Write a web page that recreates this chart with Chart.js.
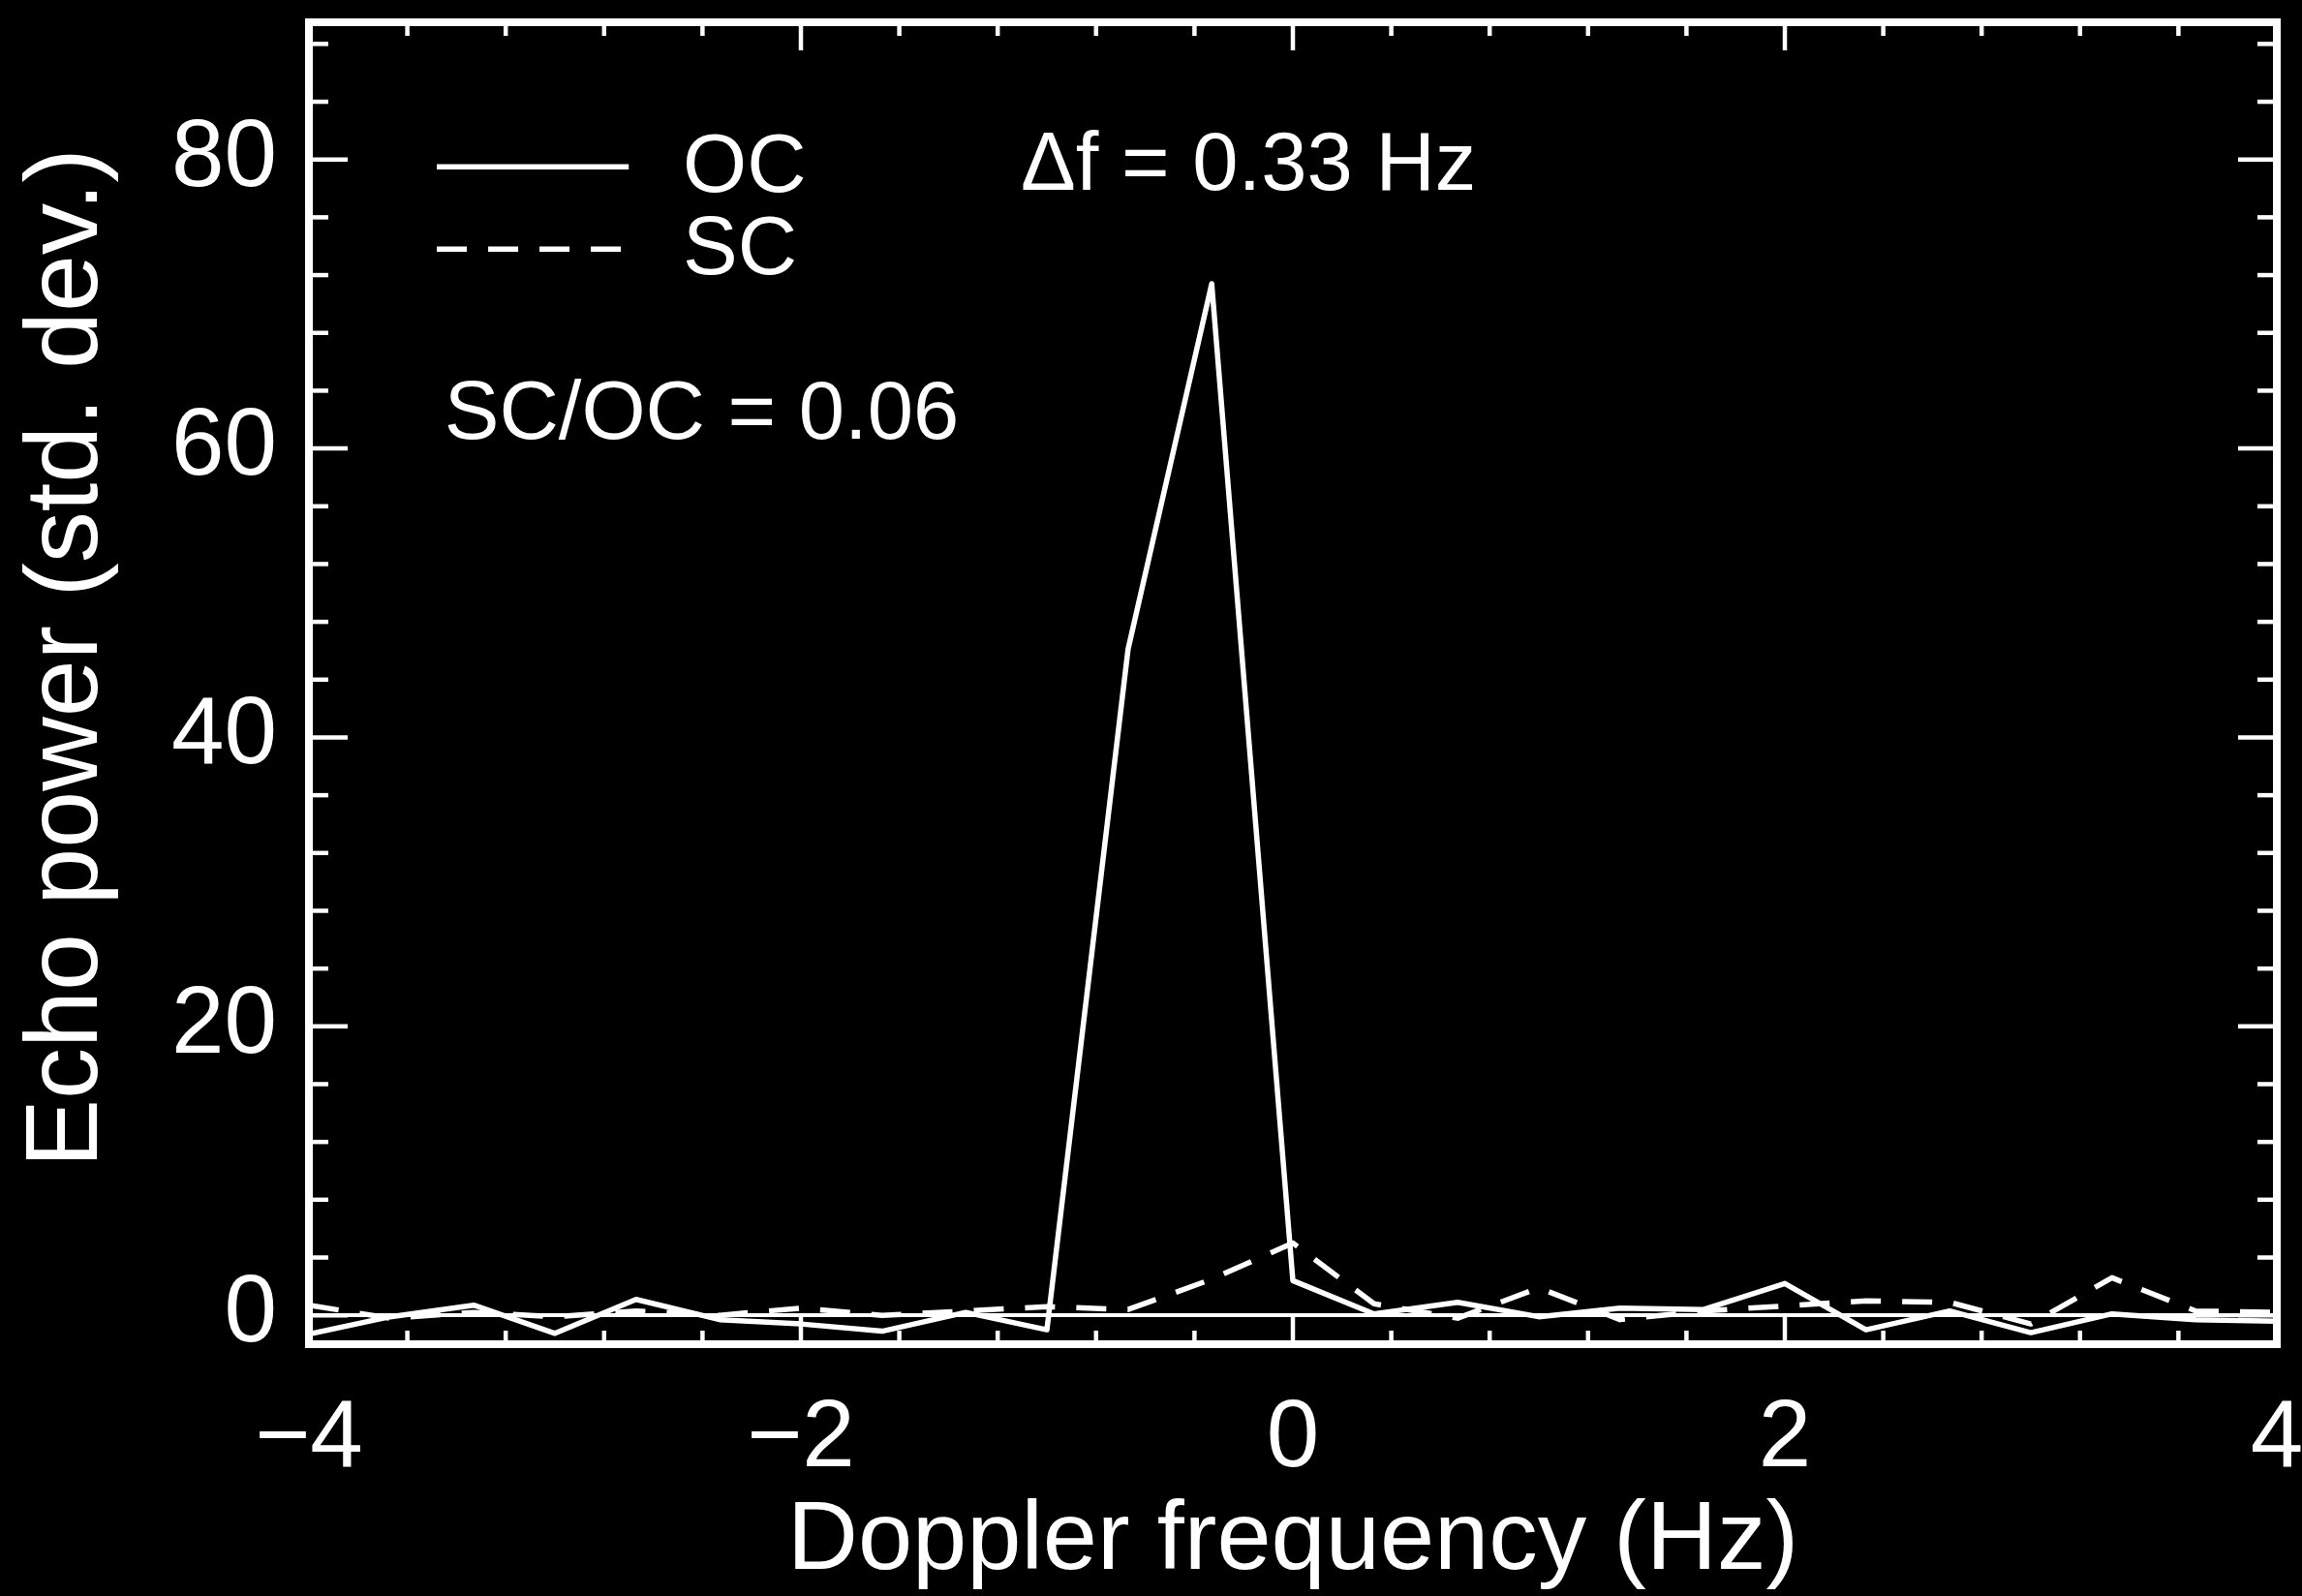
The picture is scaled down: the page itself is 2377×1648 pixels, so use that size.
<!DOCTYPE html>
<html>
<head>
<meta charset="utf-8">
<script src="https://cdn.jsdelivr.net/npm/chart.js@4.4.1/dist/chart.umd.min.js"></script>
<style>
  html, body { margin: 0; padding: 0; background: #000; }
  #wrap { width: 2377px; height: 1648px; position: relative; }
</style>
</head>
<body>
<div id="wrap"><canvas id="c"></canvas></div>
<script>
// ---- data ----
const freq = [-4.00, -3.67, -3.33, -3.00, -2.67, -2.33, -2.00, -1.67, -1.33, -1.00, -0.67, -0.33,
              0.00, 0.33, 0.67, 1.00, 1.33, 1.67, 2.00, 2.33, 2.67, 3.00, 3.33, 3.67, 4.00];
const ocPower = [-1.3, -0.1, 0.7, -1.25, 1.1, -0.3, -0.6, -1.1, 0.2, -1.0, 46.1, 71.4,
                 2.4, 0.1, 0.9, -0.1, 0.5, 0.4, 2.2, -1.0, 0.3, -1.2, 0.1, -0.3, -0.4];
const scPower = [0.7, -0.2, 0.2, -0.1, 0.3, 0.0, 0.5, 0.0, 0.3, 0.6, 0.4, 2.5,
                 5.0, 0.8, -0.2, 1.9, -0.3, 0.3, 0.65, 1.0, 0.9, -0.6, 2.6, 0.3, 0.2];
const seriesNames = ['OC', 'SC'];
const xMajorTicks = [-4, -2, 0, 2, 4];
const xMinorTicks = [-3.6, -3.2, -2.8, -2.4, -1.6, -1.2, -0.8, -0.4, 0.4, 0.8, 1.2, 1.6, 2.4, 2.8, 3.2, 3.6];
const yMajorTicks = [0, 20, 40, 60, 80];
const yMinorTicks = [4, 8, 12, 16, 24, 28, 32, 36, 44, 48, 52, 56, 64, 68, 72, 76, 84, 88];
const xRange = [-4, 4];
const yRange = [-2, 89.5];
const xTitle = 'Doppler frequency (Hz)';
const yTitle = 'Echo power (std. dev.)';
const noteDf = '\u0394f = 0.33 Hz';
const noteRatio = 'SC/OC = 0.06';

const FONT = '"Liberation Sans", Arial, Helvetica, sans-serif';
const FS = 98;      // tick labels
const FS_X = 101;   // x title
const FS_Y = 106;   // y title
const FS_N = 85;    // in-plot notes
const DASH = [31, 22];

const fmt = v => (v < 0 ? '\u2212' + Math.abs(v) : String(v));

// frame with inward major/minor ticks on all four sides
const framePlugin = {
  id: 'frame',
  afterDatasetsDraw(chart) {
    const { ctx, chartArea: a, scales: { x, y } } = chart;
    ctx.save();
    ctx.strokeStyle = '#fff';
    ctx.lineCap = 'butt';
    ctx.lineWidth = 4.5;
    const xMaj = 29, xMin = 14, yMaj = 40, yMin = 20;
    const vt = (vals, len) => vals.forEach(v => {
      const px = x.getPixelForValue(v);
      ctx.beginPath(); ctx.moveTo(px, a.bottom); ctx.lineTo(px, a.bottom - len); ctx.stroke();
      ctx.beginPath(); ctx.moveTo(px, a.top); ctx.lineTo(px, a.top + len); ctx.stroke();
    });
    const ht = (vals, len) => vals.forEach(v => {
      const py = y.getPixelForValue(v);
      ctx.beginPath(); ctx.moveTo(a.left, py); ctx.lineTo(a.left + len, py); ctx.stroke();
      ctx.beginPath(); ctx.moveTo(a.right, py); ctx.lineTo(a.right - len, py); ctx.stroke();
    });
    vt(xMajorTicks, xMaj); vt(xMinorTicks, xMin);
    ht(yMajorTicks, yMaj); ht(yMinorTicks, yMin);
    ctx.lineWidth = 8;
    ctx.strokeRect(a.left, a.top, a.right - a.left, a.bottom - a.top);
    ctx.restore();
  }
};

// in-plot legend, notes and the y-axis title
const notesPlugin = {
  id: 'notes',
  afterDatasetsDraw(chart) {
    const { ctx, scales: { x, y } } = chart;
    ctx.save();
    ctx.fillStyle = '#fff';
    ctx.strokeStyle = '#fff';
    ctx.font = FS_N + 'px ' + FONT;
    ctx.textBaseline = 'alphabetic';
    ctx.textAlign = 'left';
    const items = [
      { ds: 0, ly: 79.5, ty: 77.8 },
      { ds: 1, ly: 73.8, ty: 72.1 }
    ];
    items.forEach(it => {
      const d = chart.data.datasets[it.ds];
      ctx.lineWidth = d.borderWidth;
      ctx.setLineDash(d.borderDash || []);
      ctx.beginPath();
      ctx.moveTo(x.getPixelForValue(-3.48), y.getPixelForValue(it.ly));
      ctx.lineTo(x.getPixelForValue(-2.70), y.getPixelForValue(it.ly));
      ctx.stroke();
      ctx.setLineDash([]);
      ctx.fillText(d.label, x.getPixelForValue(-2.48), y.getPixelForValue(it.ty));
    });
    ctx.fillText(noteDf, x.getPixelForValue(-1.106), y.getPixelForValue(77.9));
    ctx.fillText(noteRatio, x.getPixelForValue(-3.45), y.getPixelForValue(60.7));

    // y-axis title, rotated, centred a little above the plot centre
    ctx.font = FS_Y + 'px ' + FONT;
    ctx.textAlign = 'center';
    ctx.translate(100, y.getPixelForValue(45.5));
    ctx.rotate(-Math.PI / 2);
    ctx.fillText(yTitle, 0, 0);
    ctx.restore();
  }
};

const bgPlugin = {
  id: 'bg',
  beforeDraw(chart) {
    const { ctx, width, height } = chart;
    ctx.save(); ctx.fillStyle = '#000'; ctx.fillRect(0, 0, width, height); ctx.restore();
  }
};

new Chart(document.getElementById('c'), {
  type: 'line',
  data: {
    datasets: [
      {
        label: seriesNames[0],
        data: freq.map((f, i) => ({ x: f, y: ocPower[i] })),
        borderColor: '#fff', borderWidth: 5.5, borderJoinStyle: 'round',
        pointRadius: 0, tension: 0, fill: false
      },
      {
        label: seriesNames[1],
        data: freq.map((f, i) => ({ x: f, y: scPower[i] })),
        borderColor: '#fff', borderWidth: 5.5, borderJoinStyle: 'round', borderDash: DASH,
        pointRadius: 0, tension: 0, fill: false
      }
    ]
  },
  options: {
    responsive: true,
    maintainAspectRatio: false,
    animation: false,
    devicePixelRatio: 1,
    layout: { padding: { left: 0, right: 26, top: 23, bottom: 0 } },
    plugins: { legend: { display: false }, tooltip: { enabled: false } },
    scales: {
      x: {
        type: 'linear', min: xRange[0], max: xRange[1],
        afterBuildTicks: s => { s.ticks = xMajorTicks.map(v => ({ value: v })); },
        afterFit: s => { s.height = 260; s.paddingLeft = 0; s.paddingRight = 0; },
        grid: { display: false, drawTicks: false },
        border: { display: false },
        ticks: { color: '#fff', font: { family: FONT, size: FS }, padding: 40, maxRotation: 0, autoSkip: false, callback: fmt },
        title: { display: true, text: xTitle, color: '#fff', font: { family: FONT, size: FS_X, lineHeight: 1 }, padding: { top: 0, bottom: 5 } }
      },
      y: {
        type: 'linear', min: yRange[0], max: yRange[1],
        afterBuildTicks: s => { s.ticks = yMajorTicks.map(v => ({ value: v })); },
        afterFit: s => { s.width = 319; s.paddingTop = 0; s.paddingBottom = 0; },
        grid: {
          drawTicks: false,
          color: c => (c.tick && c.tick.value === 0 ? '#fff' : 'rgba(0,0,0,0)'),
          lineWidth: 4
        },
        border: { display: false },
        ticks: { color: '#fff', font: { family: FONT, size: FS }, padding: 33, autoSkip: false, callback: fmt },
        title: { display: false, text: yTitle }
      }
    }
  },
  plugins: [bgPlugin, framePlugin, notesPlugin]
});
</script>
</body>
</html>
